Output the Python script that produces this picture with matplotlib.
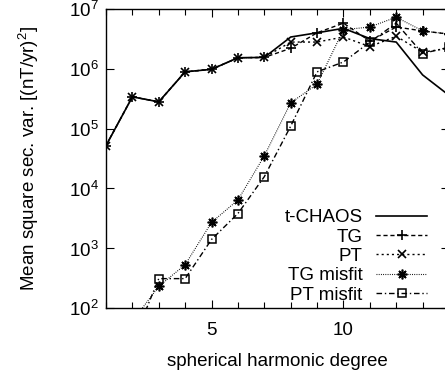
import matplotlib
matplotlib.use("Agg")
import matplotlib.pyplot as plt
from matplotlib.ticker import FixedLocator, NullLocator

plt.rcParams['font.family'] = ['Liberation Sans', 'DejaVu Sans']
plt.rcParams['mathtext.fontset'] = 'custom'
plt.rcParams['mathtext.rm'] = 'Liberation Sans'

degrees = [1, 2, 3, 4, 5, 6, 7, 8, 9, 10, 11, 12, 13, 14]
tchaos = [5.2e4, 3.4e5, 2.8e5, 8.9e5, 9.8e5, 1.53e6, 1.55e6, 3.4e6, 4.0e6, 4.75e6, 3.2e6, 2.8e6, 7.9e5, 3.6e5]
tg = [5.2e4, 3.4e5, 2.8e5, 8.9e5, 9.8e5, 1.53e6, 1.55e6, 2.2e6, 4.0e6, 5.8e6, 2.9e6, 5.0e6, 4.3e6, 3.8e6]
pt = [5.2e4, 3.4e5, 2.8e5, 8.9e5, 9.8e5, 1.53e6, 1.55e6, 2.8e6, 2.8e6, 3.4e6, 2.35e6, 3.5e6, 1.9e6, 2.2e6]
tg_misfit = [20, 60, 2.3e2, 5.3e2, 2.7e3, 6.4e3, 3.5e4, 2.7e5, 5.5e5, 4.5e6, 5.0e6, 7.3e6, 4.3e6, 3.8e6]
pt_misfit = [8, 26, 3.1e2, 3.1e2, 1.4e3, 3.8e3, 1.57e4, 1.1e5, 8.9e5, 1.3e6, 2.8e6, 5.8e6, 1.8e6, 2.3e6]
xticks = [5, 10]
yticks = [1e2, 1e3, 1e4, 1e5, 1e6, 1e7]
ytick_labels = ['$10^{2}$', '$10^{3}$', '$10^{4}$', '$10^{5}$', '$10^{6}$', '$10^{7}$']

W, H = 445, 376
fig = plt.figure(figsize=(W / 100, H / 100), dpi=100)
left, right, top, bottom = 106, 449, 9, 308
ax = fig.add_axes([left / W, 1 - bottom / H, (right - left) / W, (bottom - top) / H])

fs = 13.5
ax.plot(degrees, tchaos, color='black', lw=1.2, ls='-', label='t-CHAOS')
ax.plot(degrees, tg, color='black', lw=1.0, ls=(0, (3, 2)), marker='+', ms=7, mew=1.2, label='TG')
ax.plot(degrees, pt, color='black', lw=1.0, ls=(0, (1.5, 2.2)), marker='x', ms=6, mew=1.2, label='PT')
ax.plot(degrees, tg_misfit, color='black', lw=0.8, ls=(0, (0.8, 1.2)), marker=(8, 2, 0), ms=7, mew=1.2, label='TG misfit')
ax.plot(degrees, pt_misfit, color='black', lw=1.0, ls=(0, (4, 2, 1, 2)), marker='s', ms=6, mfc='none', mew=1.1, label='PT misfit')

ax.set_yscale('log')
ax.set_xlim(1, 14)
ax.set_ylim(1e2, 1e7)
ax.xaxis.set_major_locator(FixedLocator(xticks))
ax.xaxis.set_minor_locator(FixedLocator(degrees))
ax.yaxis.set_major_locator(FixedLocator(yticks))
ax.yaxis.set_minor_locator(NullLocator())
ax.set_yticklabels(ytick_labels)
ax.tick_params(which='both', direction='in', top=True, right=True, labelsize=fs)
ax.tick_params(which='major', length=6, width=0.8)
ax.tick_params(which='minor', length=4, width=0.8)
ax.tick_params(axis='x', pad=10)
ax.tick_params(axis='y', pad=5)
for s in ax.spines.values():
    s.set_linewidth(1.0)

ax.set_xlabel('spherical harmonic degree', fontsize=fs, labelpad=10)
ax.set_ylabel('Mean square sec. var. [(nT/yr)$^2$]', fontsize=fs, labelpad=20)

leg = ax.legend(loc='lower right', bbox_to_anchor=((429 - left) / (right - left), 0.008),
                frameon=False, markerfirst=False, numpoints=1, fontsize=fs,
                handlelength=2.7, handletextpad=0.75, labelspacing=0.12, borderpad=0.1,
                borderaxespad=0.0)
for t in leg.get_texts():
    t.set_ha('right')

fig.savefig('out.png', dpi=100)
